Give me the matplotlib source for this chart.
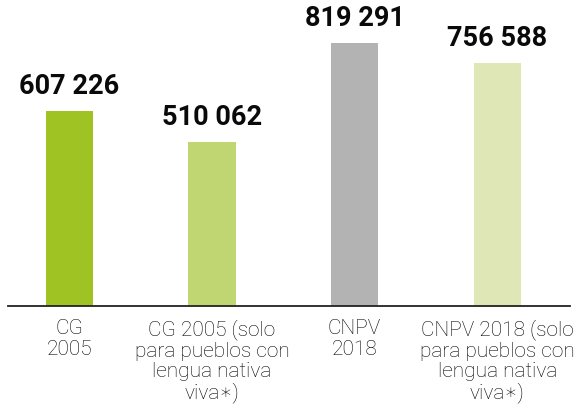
import matplotlib
matplotlib.use("Agg")
import matplotlib.pyplot as plt

categories = ["CG\n2005",
              "CG 2005 (solo\npara pueblos con\nlengua nativa\nviva\u2217)",
              "CNPV\n2018",
              "CNPV 2018 (solo\npara pueblos con\nlengua nativa\nviva\u2217)"]
values = [607226, 510062, 819291, 756588]
value_labels = ["607 226", "510 062", "819 291", "756 588"]
colors = ["#a0c324", "#c0d673", "#b3b3b3", "#dee7b5"]

fig = plt.figure(figsize=(5.79, 4.06), dpi=100)
ax = fig.add_axes([8/579, 1 - 307/406, 562/579, 307/406])
x = list(range(len(values)))
ax.bar(x, values, width=0.33, color=colors, zorder=2)
ax.set_xlim(-0.43, 3.51)
ax.set_ylim(0, 955000)

for xi, v, lab in zip(x, values, value_labels):
    ax.annotate(lab, (xi, v), xytext=(0, 8.5), textcoords="offset points",
                ha="center", va="bottom", fontsize=19.5, fontweight="bold",
                family=["Roboto", "DejaVu Sans"], color="#0a0a0a")

for s in ["top", "right", "left"]:
    ax.spines[s].set_visible(False)
ax.spines["bottom"].set_color("#222222")
ax.spines["bottom"].set_linewidth(1.3)
ax.set_yticks([])
ax.set_xticks(x)
ax.set_xticklabels(categories, fontsize=15, fontweight="light",
                   family=["Roboto", "DejaVu Sans"], color="#000000",
                   linespacing=1.08)
ax.tick_params(axis="x", length=0, pad=9)

fig.savefig("out.png", dpi=100)
